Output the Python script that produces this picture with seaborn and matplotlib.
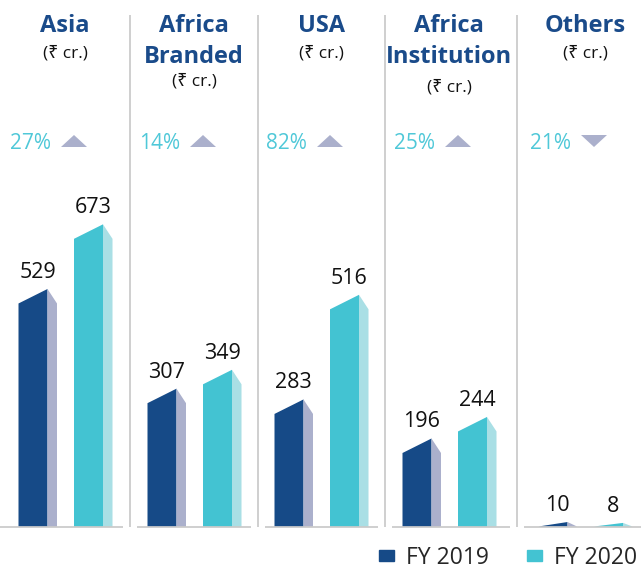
import matplotlib
matplotlib.use("Agg")
import matplotlib.pyplot as plt
import seaborn as sns
from matplotlib.patches import Patch

# Revenue by region (Rs crore)
regions = ["Asia", "Africa\nBranded", "USA", "Africa\nInstitution", "Others"]
fy2019 = [529, 307, 283, 196, 10]
fy2020 = [673, 349, 516, 244, 8]
growth = ["27%", "14%", "82%", "25%", "21%"]
direction = ["up", "up", "up", "up", "down"]
years = ["FY 2019", "FY 2020"]

sns.set_theme(style="white")
plt.rcParams['font.family'] = ['Open Sans', 'Noto Sans', 'DejaVu Sans']

front_colors = ["#164a87", "#43c3d2"]
side_colors = ["#abb0cc", "#a9dfe5"]
title_color = "#1a4b8a"
pct_color = "#4fc8d8"
tri_color = "#abb0cc"
rule_color = "#c2c2c2"

# layout in pixels
W, H = 641, 573
base_px = 526.5
px_per_unit = 0.449
centers = [65, 194, 321, 449, 585]
unit_rows = [57, 85, 57, 91, 57]
bar_left = [-46.5, 9]
front_w, side_w = 29, 9.5
drop = 14.5 / px_per_unit

fig = plt.figure(figsize=(W / 100, H / 100), dpi=100)
ax = fig.add_axes([0, 0, 1, 1])
ax.set_xlim(0, W)
ax.set_ylim(-(H - base_px) / px_per_unit, base_px / px_per_unit)
ax.axis('off')


def y_of(py):
    # pixel row (from top) -> data units
    return (base_px - py) / px_per_unit


# separators and baseline pieces
seps = [(centers[i] + centers[i + 1]) / 2 for i in range(len(centers) - 1)]
for sx in seps:
    ax.plot([sx, sx], [y_of(15), 0], color=rule_color, lw=1.1, solid_capstyle='butt')
edges = [0] + seps + [W]
for i in range(len(centers)):
    lo = edges[i] + (7 if i > 0 else 0)
    hi = edges[i + 1] - (7 if i < len(centers) - 1 else 0)
    ax.plot([lo, hi], [0, 0], color=rule_color, lw=1.1, solid_capstyle='butt')

# 3D-look bars
for i, c in enumerate(centers):
    for j, vals in enumerate([fy2019, fy2020]):
        v = vals[i]
        x0 = c + bar_left[j]
        x1 = x0 + front_w
        x2 = x1 + side_w
        low = max(v - drop, 0)
        ax.fill([x0, x0, x1, x1], [0, low, v, 0], color=front_colors[j], lw=0)
        ax.fill([x1, x1, x2, x2], [0, v, low, 0], color=side_colors[j], lw=0)
        ax.annotate(str(v), (x0 + (front_w + side_w) / 2, v), xytext=(0, 8),
                    textcoords='offset points', ha='center', va='baseline',
                    fontsize=15.5, color='#111111')

# titles, units, growth markers
for i, c in enumerate(centers):
    lines = regions[i].split("\n")
    for k, line in enumerate(lines):
        ax.text(c, y_of(32 + 31 * k), line, ha='center', va='baseline',
                fontsize=17, fontweight='bold', color=title_color)
    ax.text(c, y_of(unit_rows[i]), "(\u20b9 cr.)", ha='center', va='baseline',
            fontsize=12.5, color='#111111')
    ax.text(c - 55, y_of(149), growth[i], ha='left', va='baseline',
            fontsize=15, color=pct_color)
    tx = c + 9
    if direction[i] == "up":
        tri_y = [147, 147, 135]
    else:
        tri_y = [135, 135, 147]
    ax.fill([tx - 13, tx + 13, tx], [y_of(p) for p in tri_y], color=tri_color, lw=0)

handles = [Patch(color=front_colors[j], label=years[j]) for j in range(2)]
ax.legend(handles=handles, loc='lower right', bbox_to_anchor=(1.016, -0.018), ncol=2,
          frameon=False, fontsize=16.5, handlelength=0.65, handleheight=0.32,
          handletextpad=0.55, columnspacing=1.65, borderaxespad=0.2)

fig.savefig("out.png", dpi=100)
